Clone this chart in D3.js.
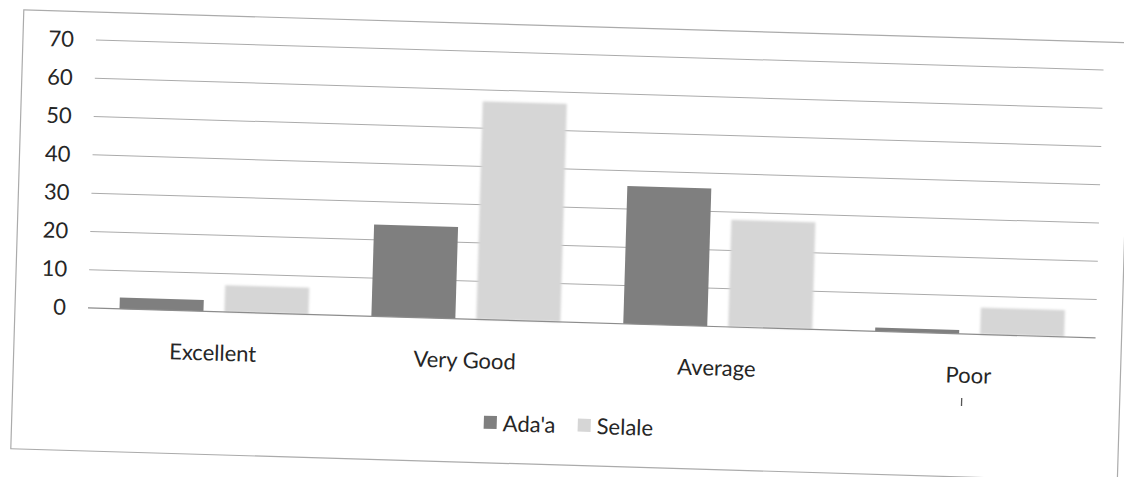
<!DOCTYPE html>
<html>
<head>
<meta charset="utf-8">
<script src="https://cdn.jsdelivr.net/npm/d3@7"></script>
<style>
  html, body { margin: 0; padding: 0; background: #fff; }
  svg { display: block; }
  text { font-family: Lato, "Open Sans", sans-serif; fill: #262626; }
</style>
</head>
<body>
<svg id="chart" width="1124" height="477"></svg>
<script>
// Ratings per district (percent of respondents)
const categories = ["Excellent", "Very Good", "Average", "Poor"];
const seriesNames = ["Ada'a", "Selale"];
const adaa = [3, 24, 36, 1];
const selale = [7, 57, 28, 7];
const yTicks = [0, 10, 20, 30, 40, 50, 60, 70];

const seriesValues = [adaa, selale];
const colors = ["#7f7f7f", "#d6d6d6"];

const W = 1124, H = 477;
const plot = { left: 88, right: 1096, top: 40, bottom: 308 };

const svg = d3.select("#chart");
const defs = svg.append("defs");
defs.append("filter").attr("id", "soft")
  .attr("x", "-5%").attr("y", "-5%").attr("width", "110%").attr("height", "110%")
  .append("feGaussianBlur").attr("stdDeviation", 0.9);

svg.append("rect").attr("width", W).attr("height", H).attr("fill", "#fff");

// The whole sheet sits slightly tilted on the page
const g = svg.append("g").attr("transform", `rotate(1.7, ${plot.left + 2}, ${plot.bottom})`);

// chart frame
g.append("rect")
  .attr("x", 15).attr("y", 12).attr("width", 1107).attr("height", 439)
  .attr("fill", "none").attr("stroke", "#ababab").attr("stroke-width", 1.2);

const x0 = d3.scaleBand().domain(categories).range([plot.left, plot.right])
  .paddingInner(0).paddingOuter(0);
const x1 = d3.scaleBand().domain(seriesNames).range([0, x0.bandwidth()])
  .paddingInner(0.2).paddingOuter(0.3);
const y = d3.scaleLinear().domain([0, 70]).range([plot.bottom, plot.top]);

// value labels on the left
const yAxis = d3.axisLeft(y).tickValues(yTicks).tickSize(0).tickPadding(0);
const ya = g.append("g").attr("transform", `translate(${plot.left},0)`).call(yAxis);
ya.select(".domain").remove();
ya.selectAll("text")
  .attr("x", -22)
  .style("font-family", "Lato, 'Open Sans', sans-serif")
  .style("font-size", "22px")
  .attr("fill", "#262626");
ya.selectAll(".tick line").remove();

// horizontal gridlines
g.append("g").selectAll("line").data(yTicks.filter(t => t > 0)).join("line")
  .attr("x1", plot.left).attr("x2", plot.right)
  .attr("y1", d => y(d)).attr("y2", d => y(d))
  .attr("stroke", "#ababab").attr("stroke-width", 1);

// bars
const groups = g.append("g").selectAll("g").data(categories).join("g")
  .attr("transform", d => `translate(${x0(d)},0)`);

groups.selectAll("rect")
  .data((c, i) => seriesNames.map((s, k) => ({ s, k, v: seriesValues[k][i] })))
  .join("rect")
  .attr("x", d => x1(d.s))
  .attr("width", x1.bandwidth())
  .attr("y", d => y(d.v))
  .attr("height", d => y(0) - y(d.v))
  .attr("fill", d => colors[d.k])
  .attr("filter", d => d.k === 1 ? "url(#soft)" : null);

// baseline
g.append("line")
  .attr("x1", plot.left).attr("x2", plot.right)
  .attr("y1", y(0)).attr("y2", y(0))
  .attr("stroke", "#8c8c8c").attr("stroke-width", 1.2);

// category labels
g.append("g").selectAll("text").data(categories).join("text")
  .attr("x", d => x0(d) + x0.bandwidth() / 2)
  .attr("y", 357)
  .attr("text-anchor", "middle")
  .style("font-size", "22px")
  .text(d => d);

// small pen mark below the last category
g.append("line")
  .attr("x1", 964).attr("x2", 964).attr("y1", 372).attr("y2", 380)
  .attr("stroke", "#555").attr("stroke-width", 1.3);

// legend
const legend = g.append("g").attr("transform", "translate(487,0)");
const items = [
  { name: seriesNames[0], color: colors[0], x: 0 },
  { name: seriesNames[1], color: colors[1], x: 94 }
];
const li = legend.selectAll("g").data(items).join("g")
  .attr("transform", d => `translate(${d.x},0)`);
li.append("rect").attr("x", 0).attr("y", 404).attr("width", 13).attr("height", 13)
  .attr("fill", d => d.color);
li.append("text").attr("x", 19).attr("y", 419)
  .style("font-size", "22px")
  .text(d => d.name);
</script>
</body>
</html>
